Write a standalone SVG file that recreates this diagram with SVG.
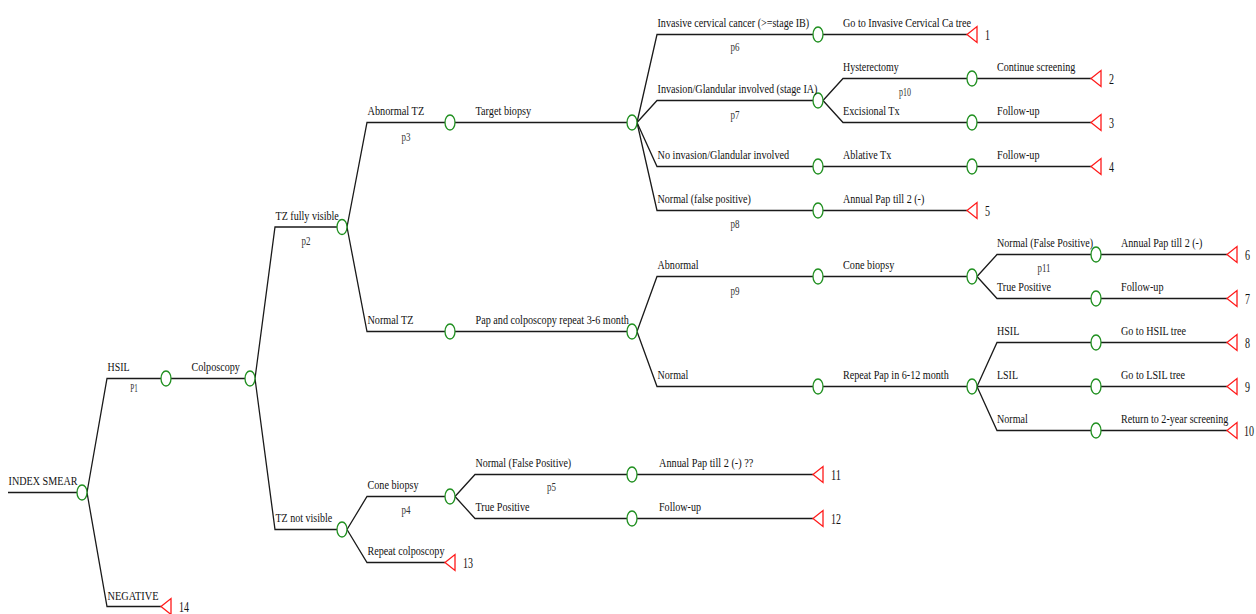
<svg xmlns="http://www.w3.org/2000/svg" xmlns:xlink="http://www.w3.org/1999/xlink" width="1256" height="614" viewBox="0 0 1256 614">
  <style>
    .ln { fill: none; stroke: #1a1a1a; stroke-width: 1.3; }
    .ch { fill: #fff; stroke: #1f8f1f; stroke-width: 1.3; }
    .tm { fill: #fff; stroke: #ff1a1a; stroke-width: 1.3; }
    text { font-family: "Liberation Serif", "Times New Roman", serif; fill: #111; }
    .lb { font-size: 13.5px; }
    .pb { font-size: 11.5px; fill: #333; text-anchor: middle; }
    .nb { font-size: 14.5px; }
  </style>
  <defs>
    <ellipse id="chance" rx="5" ry="7.5"/>
    <path id="term" d="M-5,0 L5,-8 L5,8 Z"/>
  </defs>

  <rect width="1256" height="614" fill="#fff"/>

  <!-- branch lines: diagonal from the parent node, then horizontal to the child -->
  <g id="connectors" class="ln">
    <path d="M8,492.5H77"/>
    <path d="M87,492.5L107,378.5H161"/>
    <path d="M87,492.5L107,606.5H161"/>
    <path d="M171,378.5H245"/>
    <path d="M255,378.5L275,227H337"/>
    <path d="M255,378.5L275,529.5H337"/>
    <path d="M347,227L367,122.5H445"/>
    <path d="M347,227L367,331.5H445"/>
    <path d="M455,122.5H627"/>
    <path d="M455,331.5H627"/>
    <path d="M637,122.5L657,34.5H813"/>
    <path d="M637,122.5L657,100.5H813"/>
    <path d="M637,122.5L657,166.5H813"/>
    <path d="M637,122.5L657,210.5H813"/>
    <path d="M823,34.5H967"/>
    <path d="M823,100.5L843,78.5H967"/>
    <path d="M823,100.5L843,122.5H967"/>
    <path d="M823,166.5H967"/>
    <path d="M823,210.5H967"/>
    <path d="M977,78.5H1091"/>
    <path d="M977,122.5H1091"/>
    <path d="M977,166.5H1091"/>
    <path d="M637,331.5L657,276.5H813"/>
    <path d="M637,331.5L657,386.5H813"/>
    <path d="M823,276.5H967"/>
    <path d="M823,386.5H967"/>
    <path d="M977,276.5L997,254.5H1091"/>
    <path d="M977,276.5L997,298.5H1091"/>
    <path d="M977,386.5L997,342.5H1091"/>
    <path d="M977,386.5H1091"/>
    <path d="M977,386.5L997,430.5H1091"/>
    <path d="M1101,254.5H1227"/>
    <path d="M1101,298.5H1227"/>
    <path d="M1101,342.5H1227"/>
    <path d="M1101,386.5H1227"/>
    <path d="M1101,430.5H1227"/>
    <path d="M347,529.5L367,496.5H445"/>
    <path d="M347,529.5L367,562.5H445"/>
    <path d="M455,496.5L475,474.5H627"/>
    <path d="M455,496.5L475,518.5H627"/>
    <path d="M637,474.5H813"/>
    <path d="M637,518.5H813"/>
  </g>

  <!-- root -->
  <g id="n-root">
    <use xlink:href="#chance" class="ch" x="82" y="492.5"/>
    <text class="lb" x="8.5" y="485" textLength="69" lengthAdjust="spacingAndGlyphs">INDEX SMEAR</text>
  </g>

  <g id="n-hsil">
    <use xlink:href="#chance" class="ch" x="166" y="378.5"/>
    <text class="lb" x="107.5" y="371" textLength="22" lengthAdjust="spacingAndGlyphs">HSIL</text>
    <text class="pb" x="134" y="392" textLength="7.5" lengthAdjust="spacingAndGlyphs">P1</text>
  </g>

  <g id="t14">
    <use xlink:href="#term" class="tm" x="166" y="606.5"/>
    <text class="lb" x="107.5" y="600" textLength="51" lengthAdjust="spacingAndGlyphs">NEGATIVE</text>
    <text class="nb" x="179" y="612" textLength="10" lengthAdjust="spacingAndGlyphs">14</text>
  </g>

  <g id="n-colposcopy">
    <use xlink:href="#chance" class="ch" x="250" y="378.5"/>
    <text class="lb" x="191.5" y="371" textLength="48.3" lengthAdjust="spacingAndGlyphs">Colposcopy</text>
  </g>

  <g id="n-tz-visible">
    <use xlink:href="#chance" class="ch" x="342" y="227"/>
    <text class="lb" x="275.5" y="219.5" textLength="63.3" lengthAdjust="spacingAndGlyphs">TZ fully visible</text>
    <text class="pb" x="306" y="245" textLength="9" lengthAdjust="spacingAndGlyphs">p2</text>
  </g>

  <g id="n-tz-not-visible">
    <use xlink:href="#chance" class="ch" x="342" y="529.5"/>
    <text class="lb" x="275.5" y="522" textLength="56.7" lengthAdjust="spacingAndGlyphs">TZ not visible</text>
  </g>

  <g id="n-abnormal-tz">
    <use xlink:href="#chance" class="ch" x="450" y="122.5"/>
    <text class="lb" x="367.5" y="115" textLength="56.7" lengthAdjust="spacingAndGlyphs">Abnormal TZ</text>
    <text class="pb" x="406" y="140.5" textLength="9" lengthAdjust="spacingAndGlyphs">p3</text>
  </g>

  <g id="n-normal-tz">
    <use xlink:href="#chance" class="ch" x="450" y="331.5"/>
    <text class="lb" x="367.5" y="324" textLength="46" lengthAdjust="spacingAndGlyphs">Normal TZ</text>
  </g>

  <g id="n-target-biopsy">
    <use xlink:href="#chance" class="ch" x="632" y="122.5"/>
    <text class="lb" x="475.5" y="115" textLength="55.7" lengthAdjust="spacingAndGlyphs">Target biopsy</text>
  </g>

  <g id="n-pap-colpo">
    <use xlink:href="#chance" class="ch" x="632" y="331.5"/>
    <text class="lb" x="475.5" y="323.5" textLength="153.3" lengthAdjust="spacingAndGlyphs">Pap and colposcopy repeat 3-6 month</text>
  </g>

  <!-- target biopsy outcomes -->
  <g id="n-invasive">
    <use xlink:href="#chance" class="ch" x="818" y="34.5"/>
    <text class="lb" x="657.5" y="27" textLength="151.7" lengthAdjust="spacingAndGlyphs">Invasive cervical cancer (&gt;=stage IB)</text>
    <text class="pb" x="735" y="50.5" textLength="9" lengthAdjust="spacingAndGlyphs">p6</text>
  </g>

  <g id="n-invasion-ia">
    <use xlink:href="#chance" class="ch" x="818" y="100.5"/>
    <text class="lb" x="657.5" y="93" textLength="160" lengthAdjust="spacingAndGlyphs">Invasion/Glandular involved (stage IA)</text>
    <text class="pb" x="735" y="118.5" textLength="9" lengthAdjust="spacingAndGlyphs">p7</text>
  </g>

  <g id="n-no-invasion">
    <use xlink:href="#chance" class="ch" x="818" y="166.5"/>
    <text class="lb" x="657.5" y="159" textLength="131.7" lengthAdjust="spacingAndGlyphs">No invasion/Glandular involved</text>
  </g>

  <g id="n-false-pos-1">
    <use xlink:href="#chance" class="ch" x="818" y="210.5"/>
    <text class="lb" x="657.5" y="203" textLength="93.3" lengthAdjust="spacingAndGlyphs">Normal (false positive)</text>
    <text class="pb" x="735" y="227.5" textLength="9" lengthAdjust="spacingAndGlyphs">p8</text>
  </g>

  <g id="t1">
    <use xlink:href="#term" class="tm" x="972" y="34.5"/>
    <text class="lb" x="843" y="27" textLength="128" lengthAdjust="spacingAndGlyphs">Go to Invasive Cervical Ca tree</text>
    <text class="nb" x="985" y="40" textLength="5" lengthAdjust="spacingAndGlyphs">1</text>
  </g>

  <g id="n-hysterectomy">
    <use xlink:href="#chance" class="ch" x="972" y="78.5"/>
    <text class="lb" x="843" y="71" textLength="55.7" lengthAdjust="spacingAndGlyphs">Hysterectomy</text>
    <text class="pb" x="905" y="96" textLength="12" lengthAdjust="spacingAndGlyphs">p10</text>
  </g>

  <g id="n-excisional">
    <use xlink:href="#chance" class="ch" x="972" y="122.5"/>
    <text class="lb" x="843" y="115" textLength="56.7" lengthAdjust="spacingAndGlyphs">Excisional Tx</text>
  </g>

  <g id="n-ablative">
    <use xlink:href="#chance" class="ch" x="972" y="166.5"/>
    <text class="lb" x="843" y="159" textLength="48.3" lengthAdjust="spacingAndGlyphs">Ablative Tx</text>
  </g>

  <g id="t5">
    <use xlink:href="#term" class="tm" x="972" y="210.5"/>
    <text class="lb" x="843" y="203" textLength="81.3" lengthAdjust="spacingAndGlyphs">Annual Pap till 2 (-)</text>
    <text class="nb" x="985" y="216" textLength="5" lengthAdjust="spacingAndGlyphs">5</text>
  </g>

  <g id="t2">
    <use xlink:href="#term" class="tm" x="1096" y="78.5"/>
    <text class="lb" x="997" y="71" textLength="78.3" lengthAdjust="spacingAndGlyphs">Continue screening</text>
    <text class="nb" x="1109" y="84" textLength="5" lengthAdjust="spacingAndGlyphs">2</text>
  </g>

  <g id="t3">
    <use xlink:href="#term" class="tm" x="1096" y="122.5"/>
    <text class="lb" x="997" y="115" textLength="42.5" lengthAdjust="spacingAndGlyphs">Follow-up</text>
    <text class="nb" x="1109" y="128" textLength="5" lengthAdjust="spacingAndGlyphs">3</text>
  </g>

  <g id="t4">
    <use xlink:href="#term" class="tm" x="1096" y="166.5"/>
    <text class="lb" x="997" y="159" textLength="42.5" lengthAdjust="spacingAndGlyphs">Follow-up</text>
    <text class="nb" x="1109" y="172" textLength="5" lengthAdjust="spacingAndGlyphs">4</text>
  </g>

  <!-- repeat pap / colposcopy outcomes -->
  <g id="n-abnormal">
    <use xlink:href="#chance" class="ch" x="818" y="276.5"/>
    <text class="lb" x="657.5" y="269" textLength="41" lengthAdjust="spacingAndGlyphs">Abnormal</text>
    <text class="pb" x="735" y="295" textLength="9" lengthAdjust="spacingAndGlyphs">p9</text>
  </g>

  <g id="n-normal">
    <use xlink:href="#chance" class="ch" x="818" y="386.5"/>
    <text class="lb" x="657.5" y="379" textLength="30.7" lengthAdjust="spacingAndGlyphs">Normal</text>
  </g>

  <g id="n-cone-biopsy-1">
    <use xlink:href="#chance" class="ch" x="972" y="276.5"/>
    <text class="lb" x="843" y="269" textLength="51.3" lengthAdjust="spacingAndGlyphs">Cone biopsy</text>
  </g>

  <g id="n-repeat-pap">
    <use xlink:href="#chance" class="ch" x="972" y="386.5"/>
    <text class="lb" x="843" y="379" textLength="105.7" lengthAdjust="spacingAndGlyphs">Repeat Pap in 6-12 month</text>
  </g>

  <g id="n-false-pos-2">
    <use xlink:href="#chance" class="ch" x="1096" y="254.5"/>
    <text class="lb" x="997" y="247" textLength="96" lengthAdjust="spacingAndGlyphs">Normal (False Positive)</text>
    <text class="pb" x="1044" y="272" textLength="13" lengthAdjust="spacingAndGlyphs">p11</text>
  </g>

  <g id="n-true-pos-2">
    <use xlink:href="#chance" class="ch" x="1096" y="298.5"/>
    <text class="lb" x="997" y="291" textLength="54" lengthAdjust="spacingAndGlyphs">True Positive</text>
  </g>

  <g id="n-hsil-2">
    <use xlink:href="#chance" class="ch" x="1096" y="342.5"/>
    <text class="lb" x="997" y="335" textLength="22.3" lengthAdjust="spacingAndGlyphs">HSIL</text>
  </g>

  <g id="n-lsil">
    <use xlink:href="#chance" class="ch" x="1096" y="386.5"/>
    <text class="lb" x="997" y="379" textLength="21" lengthAdjust="spacingAndGlyphs">LSIL</text>
  </g>

  <g id="n-normal-2">
    <use xlink:href="#chance" class="ch" x="1096" y="430.5"/>
    <text class="lb" x="997" y="423" textLength="30.7" lengthAdjust="spacingAndGlyphs">Normal</text>
  </g>

  <g id="t6">
    <use xlink:href="#term" class="tm" x="1232" y="254.5"/>
    <text class="lb" x="1121" y="247" textLength="81.3" lengthAdjust="spacingAndGlyphs">Annual Pap till 2 (-)</text>
    <text class="nb" x="1245" y="260" textLength="5" lengthAdjust="spacingAndGlyphs">6</text>
  </g>

  <g id="t7">
    <use xlink:href="#term" class="tm" x="1232" y="298.5"/>
    <text class="lb" x="1121" y="291" textLength="42.5" lengthAdjust="spacingAndGlyphs">Follow-up</text>
    <text class="nb" x="1245" y="304" textLength="5" lengthAdjust="spacingAndGlyphs">7</text>
  </g>

  <g id="t8">
    <use xlink:href="#term" class="tm" x="1232" y="342.5"/>
    <text class="lb" x="1121" y="335" textLength="65" lengthAdjust="spacingAndGlyphs">Go to HSIL tree</text>
    <text class="nb" x="1245" y="348" textLength="5" lengthAdjust="spacingAndGlyphs">8</text>
  </g>

  <g id="t9">
    <use xlink:href="#term" class="tm" x="1232" y="386.5"/>
    <text class="lb" x="1121" y="379" textLength="64" lengthAdjust="spacingAndGlyphs">Go to LSIL tree</text>
    <text class="nb" x="1245" y="392" textLength="5" lengthAdjust="spacingAndGlyphs">9</text>
  </g>

  <g id="t10">
    <use xlink:href="#term" class="tm" x="1232" y="430.5"/>
    <text class="lb" x="1121" y="423" textLength="107.3" lengthAdjust="spacingAndGlyphs">Return to 2-year screening</text>
    <text class="nb" x="1244" y="436" textLength="10" lengthAdjust="spacingAndGlyphs">10</text>
  </g>

  <!-- TZ not visible subtree -->
  <g id="n-cone-biopsy-2">
    <use xlink:href="#chance" class="ch" x="450" y="496.5"/>
    <text class="lb" x="367.5" y="489" textLength="51" lengthAdjust="spacingAndGlyphs">Cone biopsy</text>
    <text class="pb" x="406" y="514" textLength="9" lengthAdjust="spacingAndGlyphs">p4</text>
  </g>

  <g id="t13">
    <use xlink:href="#term" class="tm" x="450" y="562.5"/>
    <text class="lb" x="367.5" y="555" textLength="77" lengthAdjust="spacingAndGlyphs">Repeat colposcopy</text>
    <text class="nb" x="463" y="568" textLength="10" lengthAdjust="spacingAndGlyphs">13</text>
  </g>

  <g id="n-false-pos-3">
    <use xlink:href="#chance" class="ch" x="632" y="474.5"/>
    <text class="lb" x="475.5" y="467" textLength="95.7" lengthAdjust="spacingAndGlyphs">Normal (False Positive)</text>
    <text class="pb" x="551.5" y="491" textLength="9" lengthAdjust="spacingAndGlyphs">p5</text>
  </g>

  <g id="n-true-pos-3">
    <use xlink:href="#chance" class="ch" x="632" y="518.5"/>
    <text class="lb" x="475.5" y="511" textLength="54" lengthAdjust="spacingAndGlyphs">True Positive</text>
  </g>

  <g id="t11">
    <use xlink:href="#term" class="tm" x="818" y="474.5"/>
    <text class="lb" x="659" y="467" textLength="94.3" lengthAdjust="spacingAndGlyphs">Annual Pap till 2 (-) ??</text>
    <text class="nb" x="831" y="480" textLength="10" lengthAdjust="spacingAndGlyphs">11</text>
  </g>

  <g id="t12">
    <use xlink:href="#term" class="tm" x="818" y="518.5"/>
    <text class="lb" x="659" y="511" textLength="42" lengthAdjust="spacingAndGlyphs">Follow-up</text>
    <text class="nb" x="831" y="524" textLength="10" lengthAdjust="spacingAndGlyphs">12</text>
  </g>
</svg>
